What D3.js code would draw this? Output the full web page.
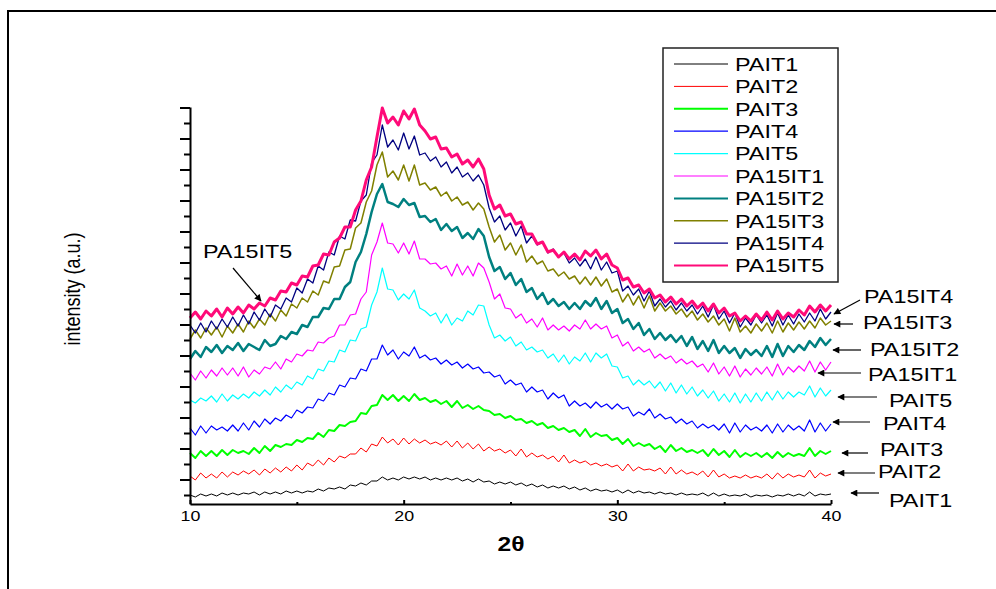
<!DOCTYPE html>
<html>
<head>
<meta charset="utf-8">
<script src="https://cdnjs.cloudflare.com/ajax/libs/d3/7.8.5/d3.min.js"></script>
<style>
body { margin: 0; background: #fff; }
svg { display: block; font-family: "Liberation Sans", Arial, sans-serif; }
</style>
</head>
<body>
<div id="chart"></div>
<script>

// series names / colours (Origin default palette)
var seriesNames = ["PAIT1", "PAIT2", "PAIT3", "PAIT4", "PAIT5",
                   "PA15IT1", "PA15IT2", "PA15IT3", "PA15IT4", "PA15IT5"];
var seriesColors = ["#000000", "#ff0000", "#00ff00", "#0000ff", "#00ffff",
                    "#ff00ff", "#008080", "#808000", "#000080", "#ff0a78"];
var seriesWidths = [1, 1, 2, 1.2, 1.2, 1.2, 2.5, 1.5, 1.3, 3];

// 2theta grid, 10..40 deg every 0.25 deg
var twoTheta = d3.range(0, 121).map(function(i) { return 10 + i * 0.25; });
var xTicks = [10, 20, 30, 40];
var xMinorTicks = [15, 25, 35];

// intensities (a.u.), stacked as in the figure
var pait1 = [
0,-2,1,-1, 1,-1,2,0, 2,0,2,1, 3,0,3,1, 3,1,4,2, 4,2,4,3, 6,4,7,6, 8,6,10,9, 12,10,14,14, 18,15,17,15,
18,16,18,16, 18,15,17,15, 17,15,17,14, 16,13,16,13, 14,11,13,11, 13,10,12,9, 11,8,10,7, 9,7,9,6, 8,5,7,4, 6,4,5,3,
5,2,5,2, 4,2,3,1, 3,1,2,0, 2,0,1,0, 2,-1,2,-1, 1,-1,0,-1, 1,-2,0,-1, 0,-2,0,-1, 1,-1,1,-1, 3,-1,1,0, 1];
var pait2 = [
19,15,22,17, 21,17,23,18, 23,20,24,21, 25,20,26,22, 27,23,28,24, 30,25,32,29, 35,30,37,33, 39,37,41,41, 47,43,51,49, 58,52,56,50,
57,51,56,52, 55,51,53,50, 54,48,54,47, 52,46,51,44, 48,44,46,42, 45,39,46,38, 42,38,40,36, 39,33,40,32, 35,32,34,30, 32,29,31,28,
30,24,31,24, 28,25,26,24, 27,21,28,21, 25,21,23,20, 24,18,25,18, 21,17,19,17, 20,17,19,17, 21,16,22,17, 21,18,20,18, 25,17,22,19, 21];
var pait3 = [
42,37,44,39, 44,39,45,40, 45,42,44,41, 47,42,49,44, 50,48,51,50, 55,53,57,56, 62,58,65,64, 70,69,73,74, 82,81,89,90, 100,95,100,94,
99,94,101,95, 97,93,95,91, 94,88,94,87, 90,86,89,85, 84,80,81,77, 79,75,76,72, 74,70,72,67, 69,65,67,63, 65,59,66,58, 62,59,60,55,
57,51,56,49, 52,49,51,46, 49,43,50,44, 47,43,45,42, 45,39,46,40, 44,38,45,38, 42,39,42,38, 42,37,43,38, 42,39,41,39, 47,39,44,41, 44];
var pait4 = [
67,60,69,62, 69,65,68,64, 70,64,72,65, 74,68,76,71, 77,74,80,77, 85,82,88,87, 96,94,102,100, 110,108,117,116, 126,124,136,136, 150,140,145,136,
143,139,148,137, 140,135,137,131, 135,130,133,127, 131,126,128,122, 123,118,120,111, 115,110,112,103, 108,103,105,96, 102,97,100,89, 94,89,92,87, 93,88,91,86,
91,86,88,79, 83,80,86,77, 81,76,78,72, 76,71,74,67, 71,67,70,65, 71,62,72,63, 70,65,68,64, 70,62,71,63, 70,65,69,64, 75,63,72,64, 71];
var pait5 = [
95,92,97,94, 99,93,101,94, 100,96,101,97, 103,99,105,100, 108,103,110,106, 113,110,119,116, 126,124,134,133, 145,143,155,154, 166,168,190,203, 227,206,205,195,
201,196,205,187, 184,179,182,172, 181,170,177,174, 184,180,190,189, 170,157,160,154, 158,149,153,145, 148,143,145,137, 141,133,140,131, 138,134,142,133, 142,137,141,129,
128,117,119,110, 115,110,114,107, 113,104,112,102, 110,101,108,99, 105,97,104,94, 101,93,102,92, 101,93,102,94, 103,95,104,96, 103,98,103,100, 109,98,107,99, 105];
var pa15it1 = [
122,115,124,117, 125,119,127,120, 127,119,128,118, 125,121,128,126, 133,126,136,133, 141,139,145,144, 153,152,157,159, 170,170,180,181, 196,203,240,253, 272,252,251,242,
252,241,254,236, 236,231,232,226, 229,219,231,220, 229,219,232,227, 213,196,201,187, 186,177,181,172, 176,168,177,165, 170,165,169,164, 170,166,175,166, 171,166,169,157,
160,149,153,144, 148,143,146,137, 141,136,139,132, 136,131,134,128, 131,123,132,121, 128,119,129,118, 126,120,127,121, 128,119,131,120, 128,123,129,124, 134,123,133,125, 133];
var pa15it2 = [
136,144,138,148, 143,150,142,149, 145,152,144,151, 148,145,155,149, 151,159,156,163, 161,170,168,178, 178,187,186,196, 196,208,213,233, 243,261,283,301, 311,293,291,288,
296,290,292,278, 279,273,276,265, 271,264,268,257, 262,256,266,259, 238,224,228,216, 222,210,216,203, 207,196,202,191, 196,189,193,186, 192,186,194,189, 197,186,194,182,
186,172,176,166, 172,160,166,156, 162,155,160,153, 159,149,158,146, 154,144,155,142, 149,142,147,137, 146,140,145,139, 149,138,151,139, 149,143,150,145, 154,148,157,150, 156];
var pa15it3 = [
156,165,157,167, 160,168,158,169, 162,171,163,174, 167,176,170,181, 174,185,179,191, 187,197,193,204, 200,214,212,228, 229,245,246,267, 272,293,304,330, 343,318,324,315,
330,314,330,310, 312,305,308,299, 303,294,298,290, 293,285,292,286, 268,253,260,245, 252,240,250,233, 239,231,234,224, 226,219,223,216, 219,211,218,210, 218,209,216,203,
206,193,201,190, 199,187,199,184, 192,184,189,181, 186,178,184,175, 181,173,179,170, 176,164,177,163, 169,162,171,164, 172,162,174,163, 172,165,173,166, 174,167,177,170, 174];
var pa15it4 = [
170,162,172,163, 174,166,176,168, 178,169,180,171, 183,175,186,178, 190,186,197,193, 207,202,216,212, 229,225,243,240, 259,256,275,274, 294,300,332,340, 370,348,355,345,
362,346,359,340, 342,334,338,328, 333,322,328,318, 322,314,320,310, 287,273,279,265, 272,259,269,252, 259,250,253,242, 246,238,242,232, 237,229,236,226, 238,225,233,222,
224,204,209,200, 206,194,204,189, 196,188,194,185, 192,184,190,181, 189,178,190,176, 184,172,182,168, 177,170,180,172, 180,169,182,170, 180,171,181,173, 182,174,186,176, 183];
var pa15it5 = [
177,183,176,184, 179,186,178,187, 181,188,182,190, 186,192,189,197, 195,204,203,212, 210,219,218,229, 230,241,240,253, 257,268,268,285, 294,315,328,358, 387,372,378,370,
384,376,386,370, 364,356,358,346, 347,338,341,331, 335,328,336,326, 300,286,290,279, 281,271,273,261, 261,251,253,243, 245,238,243,236, 241,235,244,239, 245,236,241,230,
227,215,217,208, 210,202,206,197, 200,193,198,191, 196,189,194,187, 192,184,191,182, 187,179,182,174, 179,174,181,175, 183,175,184,176, 182,178,185,180, 189,183,190,184, 190];

var allSeries = [pait1, pait2, pait3, pait4, pait5, pa15it1, pa15it2, pa15it3, pa15it4, pa15it5];

// label + arrow placement (pixels)
var labelLayout = [
  {name: "PAIT1",   tx: 889, ty: 500, x1: 879, y1: 493, x2: 851, y2: 493},
  {name: "PAIT2",   tx: 878, ty: 471, x1: 875, y1: 473, x2: 838, y2: 473},
  {name: "PAIT3",   tx: 880, ty: 449, x1: 868, y1: 453, x2: 842, y2: 453},
  {name: "PAIT4",   tx: 883, ty: 423, x1: 870, y1: 422, x2: 833, y2: 422},
  {name: "PAIT5",   tx: 889, ty: 400, x1: 877, y1: 397, x2: 838, y2: 397},
  {name: "PA15IT1", tx: 868, ty: 374, x1: 861, y1: 373, x2: 818, y2: 373},
  {name: "PA15IT2", tx: 870, ty: 349, x1: 861, y1: 350, x2: 833, y2: 350},
  {name: "PA15IT3", tx: 863, ty: 322, x1: 853, y1: 324, x2: 834, y2: 324},
  {name: "PA15IT4", tx: 864, ty: 296, x1: 860, y1: 300, x2: 834, y2: 314},
  {name: "PA15IT5", tx: 203, ty: 251, x1: 233, y1: 268, x2: 261, y2: 301}
];

var width = 996
var height = 589
var stretch = 1.23   // the figure is widened horizontally

var svg = d3.select("#chart")
  .append("svg")
  .attr("width", width)
  .attr("height", height);

svg.append("defs").append("marker")
    .attr("id", "arrow")
    .attr("viewBox", "0 0 10 10")
    .attr("refX", 9).attr("refY", 5)
    .attr("markerWidth", 9).attr("markerHeight", 7)
    .attr("markerUnits", "userSpaceOnUse")
    .attr("orient", "auto")
  .append("path")
    .attr("d", "M0,0 L10,5 L0,10 z")
    .attr("fill", "#000");

// outer frame (runs off the right and bottom edges)
svg.append("rect")
    .attr("x", 8).attr("y", 11)
    .attr("width", 1000).attr("height", 600)
    .attr("fill", "none")
    .attr("stroke", "#000")
    .attr("stroke-width", 2);

var x = d3.scaleLinear().domain([10, 40]).range([190, 831]);
var y = d3.scaleLinear().domain([-9, 388]).range([504, 107]);

function addText(sel, px, py, str, size, anchor, weight) {
  return sel.append("text")
      .attr("transform", "translate(" + px + "," + py + ") scale(" + stretch + ",1)")
      .attr("text-anchor", anchor || "start")
      .attr("font-size", size)
      .attr("font-weight", weight || "normal")
      .attr("fill", "#000")
      .text(str);
}

// curves
var line = d3.line()
    .x(function(d, i) { return x(twoTheta[i]); })
    .y(function(d) { return y(d); });

svg.append("g")
  .selectAll("path")
  .data(allSeries)
  .enter().append("path")
    .attr("fill", "none")
    .attr("stroke", function(d, i) { return seriesColors[i]; })
    .attr("stroke-width", function(d, i) { return seriesWidths[i]; })
    .attr("stroke-linejoin", "round")
    .attr("d", line);

// y axis: unlabeled ticks, major every other one
var yTickVals = d3.range(0, 26).map(function(i) { return i * 15.5; });
var yMajor = yTickVals.filter(function(d, i) { return i % 2 == 1; });
var yMinor = yTickVals.filter(function(d, i) { return i % 2 == 0; });

svg.append("g")
    .attr("transform", "translate(190,0)")
    .call(d3.axisLeft(y).tickValues(yMajor).tickSize(10).tickSizeOuter(0).tickFormat(""));
svg.append("g")
    .attr("transform", "translate(190,0)")
    .call(d3.axisLeft(y).tickValues(yMinor).tickSize(6).tickSizeOuter(0).tickFormat(""))
  .select(".domain").remove();

// x axis
var xAxisG = svg.append("g")
    .attr("transform", "translate(0,504)")
    .call(d3.axisBottom(x).tickValues(xTicks).tickSize(-4).tickSizeOuter(0).tickPadding(7)
      .tickFormat(d3.format("d")));
xAxisG.selectAll("text")
    .attr("font-size", 14.5)
    .attr("font-family", "Liberation Sans, Arial, sans-serif")
    .attr("fill", "#000")
    .attr("transform", "scale(" + stretch + ",1)");
svg.append("g")
    .attr("transform", "translate(0,504)")
    .call(d3.axisBottom(x).tickValues(xMinorTicks).tickSize(-2).tickSizeOuter(0).tickFormat(""))
  .select(".domain").remove();

svg.selectAll(".domain, .tick line")
    .attr("stroke", "#000")
    .attr("stroke-width", 2);

// axis titles
addText(svg, 511, 551, "2\u03b8", 20, "middle", "bold");
svg.append("text")
    .attr("transform", "translate(80,289) scale(" + stretch + ",1) rotate(-90)")
    .attr("text-anchor", "middle")
    .attr("font-size", 18)
    .attr("fill", "#000")
    .text("intensity (a.u.)");

// legend
var legend = svg.append("g");
legend.append("rect")
    .attr("x", 663).attr("y", 48)
    .attr("width", 175).attr("height", 234)
    .attr("fill", "#fff")
    .attr("stroke", "#222")
    .attr("stroke-width", 1.5);

seriesNames.forEach(function(name, i) {
  var cy = 64 + i * 22.4;
  legend.append("line")
      .attr("x1", 674).attr("x2", 728)
      .attr("y1", cy).attr("y2", cy)
      .attr("stroke", seriesColors[i])
      .attr("stroke-width", Math.min(seriesWidths[i], 2));
  addText(legend, 735, cy + 6.8, name, 19);
});

// curve labels with arrows
var notes = svg.append("g");
labelLayout.forEach(function(d) {
  notes.append("line")
      .attr("x1", d.x1).attr("y1", d.y1)
      .attr("x2", d.x2).attr("y2", d.y2)
      .attr("stroke", "#000")
      .attr("stroke-width", 1.2)
      .attr("marker-end", "url(#arrow)");
  addText(notes, d.tx, d.ty + 6.8, d.name, 19);
});

</script>
</body>
</html>
